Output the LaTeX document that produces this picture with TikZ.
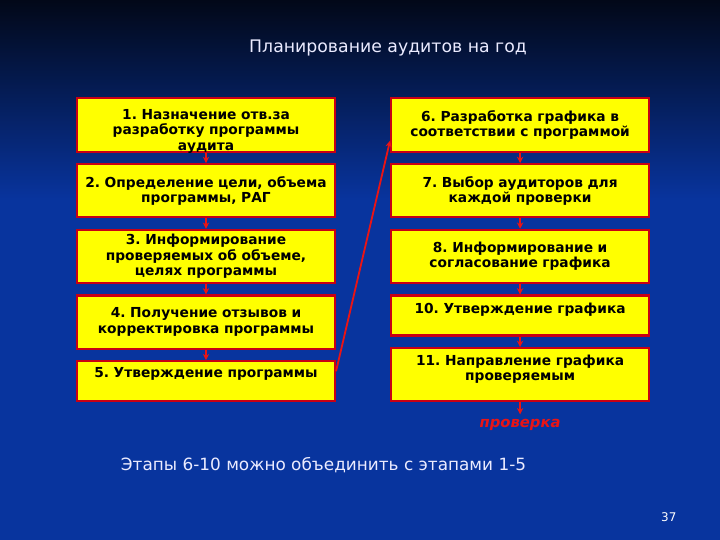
\documentclass[tikz,border=0pt]{standalone}
\usepackage{fontspec}
\setmainfont{DejaVu Sans}
\usetikzlibrary{arrows.meta, positioning}
\definecolor{slideblue}{RGB}{8,52,158}
\definecolor{slidetop}{RGB}{2,8,24}
\definecolor{boxyellow}{RGB}{255,255,0}
\definecolor{boxred}{RGB}{200,0,20}
\definecolor{linkred}{RGB}{235,20,20}
\frenchspacing

\begin{document}
\begin{tikzpicture}[
    node distance=0.26cm and 1.35cm,
    stage/.style={rectangle, minimum height=1.33cm, text width=6.45cm, align=center, inner xsep=0pt, inner ysep=0pt, draw=boxred, line width=1.5pt, fill=boxyellow, font=\bfseries\fontsize{9.8}{11}\selectfont},
    short/.style={stage, minimum height=1cm},
    arrow/.style={linkred, line width=1.3pt, -{Stealth[length=4.5pt, width=4.5pt]}}
    ]

    % Background
    \fill[slideblue] (0,0) rectangle (18,-13.5);
    \shade[top color=slidetop, bottom color=slideblue] (0,0) rectangle (18,-5);
    \useasboundingbox (0,0) rectangle (18,-13.5);

    \node (title) [text=white!92!blue, font=\fontsize{12.3}{14}\selectfont] at (9.7,-1.2) {Планирование аудитов на год};

    % Program stages
    \node (appoint) [stage, text height=0.52cm, text depth=0.81cm] at (5.15,-3.125) {1. Назначение отв.за\\ разработку программы\\ аудита};
    \node (goals) [stage, below=of appoint] {2. Определение цели, объема\\ программы, РАГ};
    \node (inform) [stage, below=of goals] {3. Информирование\\ проверяемых об объеме,\\ целях программы};
    \node (feedback) [stage, below=of inform] {4. Получение отзывов и\\ корректировка программы};
    \node (approve) [short, below=of feedback, text height=0.41cm, text depth=0.59cm] {5. Утверждение программы};

    % Schedule stages
    \node (draft) [stage, right=of appoint] {6. Разработка графика в\\ соответствии с программой};
    \node (auditors) [stage, below=of draft] {7. Выбор аудиторов для\\ каждой проверки};
    \node (agree) [stage, below=of auditors] {8. Информирование и\\ согласование графика};
    \node (confirm) [short, below=of agree, text height=0.45cm, text depth=0.55cm] {10. Утверждение графика};
    \node (send) [stage, below=of confirm, text height=0.43cm, text depth=0.9cm] {11. Направление графика\\ проверяемым};

    \node (check) [below=0.3cm of send, text=linkred, font=\bfseries\itshape\fontsize{10.5}{12}\selectfont] {проверка};

    % Arrows
    \draw [arrow] (appoint) -- (goals);
    \draw [arrow] (goals) -- (inform);
    \draw [arrow] (inform) -- (feedback);
    \draw [arrow] (feedback) -- (approve);
    \draw [arrow] ([yshift=0.25cm]approve.east) -- ([yshift=0.3cm]draft.south west);
    \draw [arrow] (draft) -- (auditors);
    \draw [arrow] (auditors) -- (agree);
    \draw [arrow] (agree) -- (confirm);
    \draw [arrow] (confirm) -- (send);
    \draw [arrow] (send) -- (check);

    % Notes
    \node (note) [anchor=west, text=white!92!blue, font=\fontsize{12}{14}\selectfont] at (2.9,-11.62) {Этапы 6-10 можно объединить с этапами 1-5};
    \node (pagenum) [text=white, font=\fontsize{8.5}{10}\selectfont] at (16.72,-12.93) {37};

\end{tikzpicture}
\end{document}
